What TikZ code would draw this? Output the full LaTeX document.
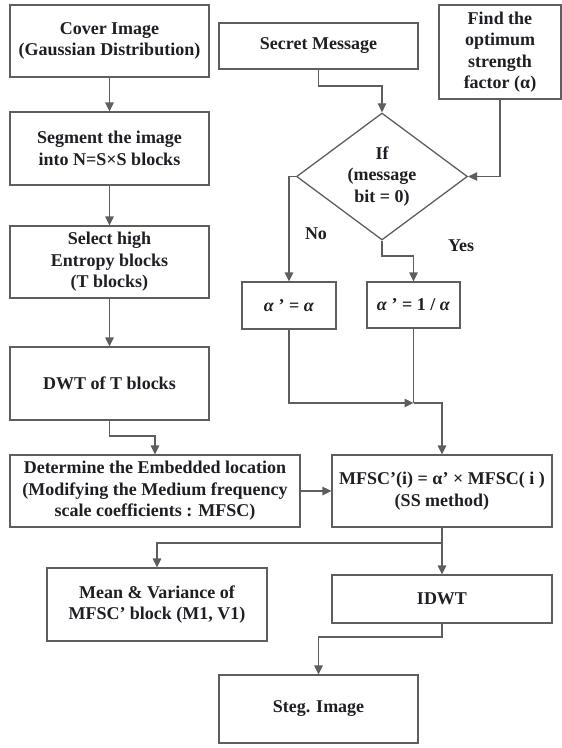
\documentclass[tikz,border=0pt]{standalone}
\usepackage{fontspec}
\setmainfont{Liberation Serif}[BoldFont={Liberation Serif Bold}, ItalicFont={Liberation Serif Italic}, BoldItalicFont={Liberation Serif Bold Italic}]
\usetikzlibrary{arrows.meta,shapes.geometric}
\definecolor{edge}{HTML}{5E5E5E}
\definecolor{ink}{HTML}{1E1E24}
\begin{document}
\begin{tikzpicture}[x=1pt,y=-1pt,
  every node/.style={font=\rmfamily\bfseries\fontsize{18}{21.5}\selectfont, text=ink},
  box/.style={draw=edge, line width=1.2pt, rectangle, align=center, inner sep=1pt},
  decision/.style={draw=edge, line width=1.3pt, diamond, aspect=1.35, align=center, inner sep=0pt},
  link/.style={draw=edge, line width=1.2pt},
  arr/.style={link, -{Triangle[length=9pt,width=8.5pt]}},
  tag/.style={font=\rmfamily\bfseries\fontsize{18}{21}\selectfont}]
\useasboundingbox (0,0) rectangle (562,748);

% left column
\node[box, minimum width=199pt, minimum height=72pt] (cover) at (109.5,41) {Cover Image\\(Gaussian Distribution)};
\node[box, minimum width=199pt, minimum height=73pt] (segment) at (109.5,148.5) {Segment the image\\into N=S×S blocks};
\node[box, minimum width=199pt, minimum height=72pt] (select) at (109.5,262) {Select high\\Entropy blocks\\(T blocks)};
\node[box, minimum width=199pt, minimum height=73pt] (dwt) at (109.5,383.5) {DWT of T blocks};
\node[box, minimum width=290pt, minimum height=72pt] (determine) at (155,491) {Determine the Embedded location\\(Modifying the Medium frequency\\scale coefficients : MFSC)};
\node[box, minimum width=220pt, minimum height=73pt] (mean) at (157,604.5) {Mean \& Variance of\\MFSC’ block (M1, V1)};

% right column
\node[box, minimum width=199pt, minimum height=46pt] (secret) at (318.5,46) {Secret Message};
\node[box, minimum width=122pt, minimum height=94pt] (find) at (500,52) {Find the\\optimum\\strength\\factor (α)};
\node[decision, minimum width=171pt, minimum height=127pt] (dec) at (382,176.5) {If\\(message\\bit = 0)};
\node[box, minimum width=94pt, minimum height=47pt] (nobox) at (289,305.5) {\textit{α} ’ = \textit{α}};
\node[box, minimum width=93pt, minimum height=46pt] (yesbox) at (413.5,305) {\textit{α} ’ = 1 / \textit{α}};
\node[box, minimum width=220pt, minimum height=72pt] (mfsc) at (442,491) {MFSC’(i) = α’ × MFSC( i )\\(SS method)};
\node[box, minimum width=220pt, minimum height=48pt] (idwt) at (442,599) {IDWT};
\node[box, minimum width=199pt, minimum height=68pt] (steg) at (318.5,709) {Steg. Image};

% branch labels
\node[tag] (no) at (316,234) {No};
\node[tag] (yes) at (461,246) {Yes};

% bend points
\coordinate (b0) at (132,436);
\coordinate (b1) at (350,86);
\coordinate (b2) at (398,256);
\coordinate (j1) at (413.5,403);
\coordinate (j2) at (442,543);
\coordinate (b3) at (380,637);

% connectors
\draw[arr] (cover) -- (segment);
\draw[arr] (segment) -- (select);
\draw[arr] (select) -- (dwt);
\draw[arr] (dwt.south) |- (b0) -| (determine.north);
\draw[arr] (determine) -- (mfsc);
\draw[arr] (secret.south) |- (b1) -| (dec.north);
\draw[arr] (find.south) |- (dec.east);
\draw[arr] (dec.west) -| (nobox.north);
\draw[arr] (dec.south) |- (b2) -| (yesbox.north);
\draw[arr] (nobox.south) |- (j1);
\draw[link] (yesbox.south) -- (j1);
\draw[arr] (j1) -| (mfsc.north);
\draw[arr] (mfsc) -- (idwt);
\draw[arr] (j2) -| (mean.north);
\draw[arr] (idwt.south) |- (b3) -| (steg.north);
\end{tikzpicture}
\end{document}
